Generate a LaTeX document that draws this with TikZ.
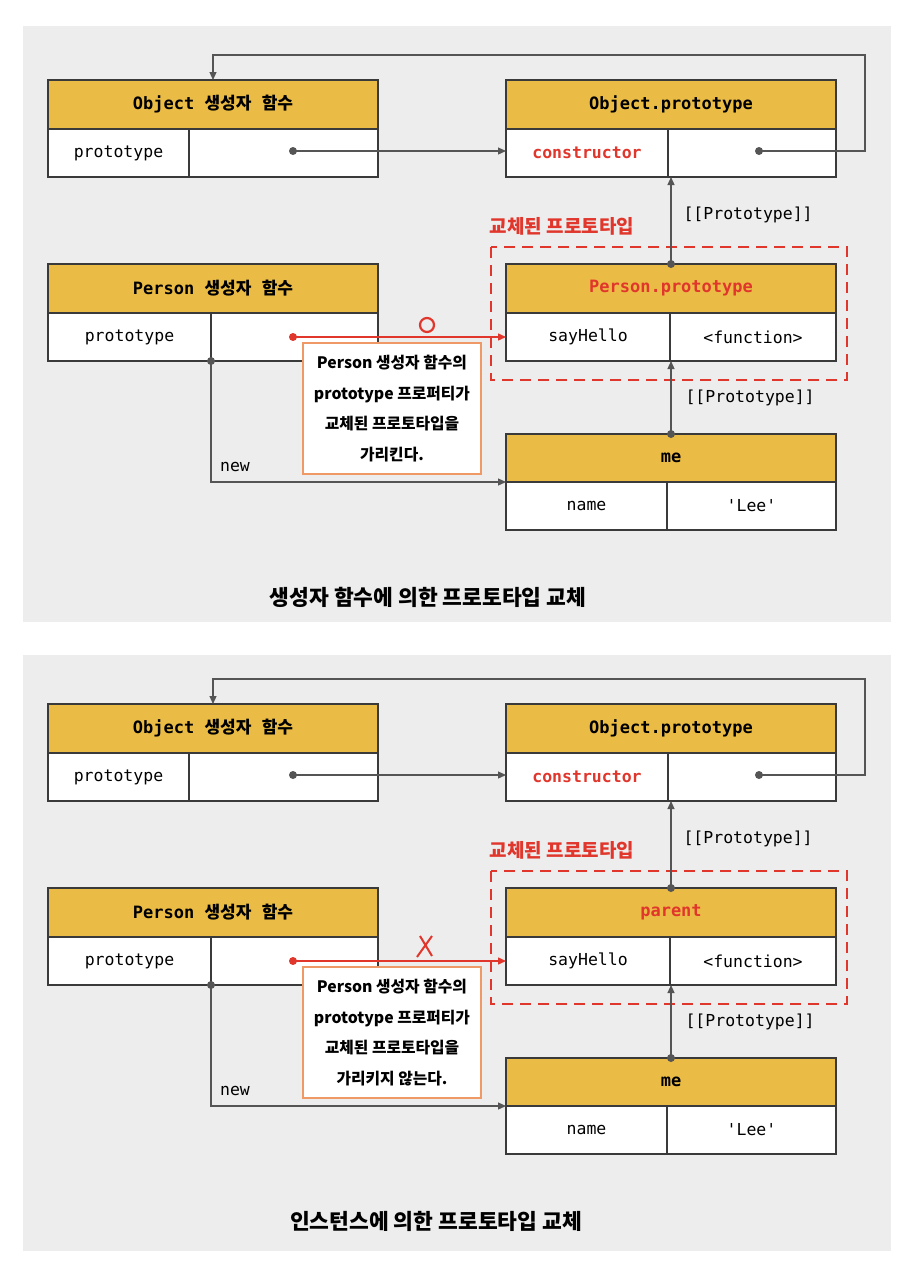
\documentclass[tikz,border=0pt]{standalone}
\usepackage{fontspec}
\setmonofont{DejaVu Sans Mono}
\newfontfamily\kr{Noto Sans CJK KR}
\usetikzlibrary{arrows.meta}
\definecolor{panelbg}{HTML}{EDEDED}
\definecolor{headfill}{HTML}{EBBC45}
\definecolor{boxline}{HTML}{3A3A3A}
\definecolor{linkgray}{HTML}{555555}
\definecolor{markred}{HTML}{E0362C}
\definecolor{noteline}{HTML}{EE9966}
\tikzset{
	head/.style={draw=boxline, line width=1.3pt, fill=headfill, anchor=north west, outer sep=0pt, inner sep=0pt, minimum width=330, minimum height=49, font=\kr\bfseries\fontsize{17}{20}\selectfont},
	cell/.style={draw=boxline, line width=1.3pt, fill=white, anchor=north west, outer sep=0pt, inner sep=0pt, minimum height=48, font=\ttfamily\fontsize{16.5}{20}\selectfont},
	link/.style={draw=linkgray, line width=1.2pt},
	redlink/.style={draw=markred, line width=1.4pt},
	dot/.style={fill=linkgray},
	reddot/.style={fill=markred},
	replaced/.style={draw=markred, line width=2.8pt, dash pattern=on 11pt off 7pt},
	replabel/.style={text=markred, font=\kr\bfseries\fontsize{19}{22}\selectfont},
	note/.style={draw=noteline, line width=1.2pt, fill=white, minimum width=178, minimum height=131, align=center, font=\kr\bfseries\fontsize{15.8}{30.5}\selectfont},
	lbl/.style={font=\ttfamily\fontsize{16.5}{20}\selectfont},
	caption/.style={font=\kr\bfseries\fontsize{21.5}{24}\selectfont},
	>={Triangle[length=8pt,width=7pt]}
}
\begin{document}
\begin{tikzpicture}[x=1pt,y=-1pt]
		\useasboundingbox (0,0) rectangle (900,1266);
		\fill[white] (0,0) rectangle (900,1266);
		% constructor function
		\fill[panelbg] (23,26) rectangle (891,622);
		\node[head] (oh) at (48,80) {\texttt{Object\ }생성자\texttt{\ }함수};
		\node[cell, minimum width=141] (ok) at (oh.south west) {prototype};
		\node[cell, minimum width=189] (ov) at (ok.north east) {};
		\node[head] (ph) at (506,80) {\texttt{Object.prototype}};
		\node[cell, minimum width=162, text=markred] (pk) at (ph.south west) {\bfseries constructor};
		\node[cell, minimum width=168] (pv) at (pk.north east) {};
		\node[head] (ch) at (48,264) {\texttt{Person\ }생성자\texttt{\ }함수};
		\node[cell, minimum width=163] (ck) at (ch.south west) {prototype};
		\node[cell, minimum width=167] (cv) at (ck.north east) {};
		\draw[replaced] (491,247) rectangle (847,380);
		\node[replabel] (rl) at (562,226) {교체된 프로토타입};
		\node[head] (sh) at (506,264) {\textcolor{markred}{\texttt{Person.prototype}}};
		\node[cell, minimum width=164] (sk) at (sh.south west) {sayHello};
		\node[cell, minimum width=166] (sv) at (sk.north east) {<function>};
		\node[head, minimum height=48] (mh) at (506,434) {\texttt{me}};
		\node[cell, minimum width=161] (mk) at (mh.south west) {name};
		\node[cell, minimum width=169] (mv) at (mk.north east) {'Lee'};
		\coordinate (od) at (293,151);
		\coordinate (pd) at (759,151);
		\coordinate (loop) at (865,55);
		\coordinate (rd) at (293,337);
		\draw[link,->] (od) -- (od -| pk.west);
		\draw[link,->] (pd) -| (loop) -| (oh.north);
		\draw[link,->] (sh.north) -- (sh.north |- pk.south);
		\draw[link,->] (mh.north) -- (mh.north |- sk.south);
		\draw[link,->] (ck.south east) |- (mk.north west);
		\draw[redlink,->] (rd) -- (rd -| sk.west);
		\fill[dot] (od) circle[radius=4pt];
		\fill[dot] (pd) circle[radius=4pt];
		\fill[dot] (sh.north) circle[radius=4pt];
		\fill[dot] (mh.north) circle[radius=4pt];
		\fill[dot] (ck.south east) circle[radius=4pt];
		\fill[reddot] (rd) circle[radius=4pt];
		\draw[markred, line width=2.2pt] (427,325) circle[radius=7pt];
		\node[lbl, anchor=west] (pl) at (680,215) {[[Prototype]]};
		\node[lbl, anchor=west] (ml) at (682,398) {[[Prototype]]};
		\node[lbl] (nl) at (235,467) {new};
		\node[note] (nt) at (392,408.5) {Person 생성자 함수의\\prototype 프로퍼티가\\교체된 프로토타입을\\가리킨다.};
		\node[caption] (cap) at (428,597) {생성자 함수에 의한 프로토타입 교체};
		% instance
		\begin{scope}[shift={(0,624)}]
		\fill[panelbg] (23,31) rectangle (891,627);
		\node[head] (boh) at (48,80) {\texttt{Object\ }생성자\texttt{\ }함수};
		\node[cell, minimum width=141] (bok) at (boh.south west) {prototype};
		\node[cell, minimum width=189] (bov) at (bok.north east) {};
		\node[head] (bph) at (506,80) {\texttt{Object.prototype}};
		\node[cell, minimum width=162, text=markred] (bpk) at (bph.south west) {\bfseries constructor};
		\node[cell, minimum width=168] (bpv) at (bpk.north east) {};
		\node[head] (bch) at (48,264) {\texttt{Person\ }생성자\texttt{\ }함수};
		\node[cell, minimum width=163] (bck) at (bch.south west) {prototype};
		\node[cell, minimum width=167] (bcv) at (bck.north east) {};
		\draw[replaced] (491,247) rectangle (847,380);
		\node[replabel] (brl) at (562,226) {교체된 프로토타입};
		\node[head] (bsh) at (506,264) {\textcolor{markred}{\texttt{parent}}};
		\node[cell, minimum width=164] (bsk) at (bsh.south west) {sayHello};
		\node[cell, minimum width=166] (bsv) at (bsk.north east) {<function>};
		\node[head, minimum height=48] (bmh) at (506,434) {\texttt{me}};
		\node[cell, minimum width=161] (bmk) at (bmh.south west) {name};
		\node[cell, minimum width=169] (bmv) at (bmk.north east) {'Lee'};
		\coordinate (bod) at (293,151);
		\coordinate (bpd) at (759,151);
		\coordinate (bloop) at (865,55);
		\coordinate (brd) at (293,337);
		\draw[link,->] (bod) -- (bod -| bpk.west);
		\draw[link,->] (bpd) -| (bloop) -| (boh.north);
		\draw[link,->] (bsh.north) -- (bsh.north |- bpk.south);
		\draw[link,->] (bmh.north) -- (bmh.north |- bsk.south);
		\draw[link,->] (bck.south east) |- (bmk.north west);
		\draw[redlink,->] (brd) -- (brd -| bsk.west);
		\fill[dot] (bod) circle[radius=4pt];
		\fill[dot] (bpd) circle[radius=4pt];
		\fill[dot] (bsh.north) circle[radius=4pt];
		\fill[dot] (bmh.north) circle[radius=4pt];
		\fill[dot] (bck.south east) circle[radius=4pt];
		\fill[reddot] (brd) circle[radius=4pt];
		\draw[markred, line width=2pt] (420,312) -- (432,332) (432,312) -- (417,333);
		\node[lbl, anchor=west] (bpl) at (680,215) {[[Prototype]]};
		\node[lbl, anchor=west] (bml) at (682,398) {[[Prototype]]};
		\node[lbl] (bnl) at (235,467) {new};
		\node[note] (bnt) at (392,408.5) {Person 생성자 함수의\\prototype 프로퍼티가\\교체된 프로토타입을\\가리키지 않는다.};
		\node[caption] (bcap) at (436,597) {인스턴스에 의한 프로토타입 교체};
		\end{scope}
\end{tikzpicture}
\end{document}
